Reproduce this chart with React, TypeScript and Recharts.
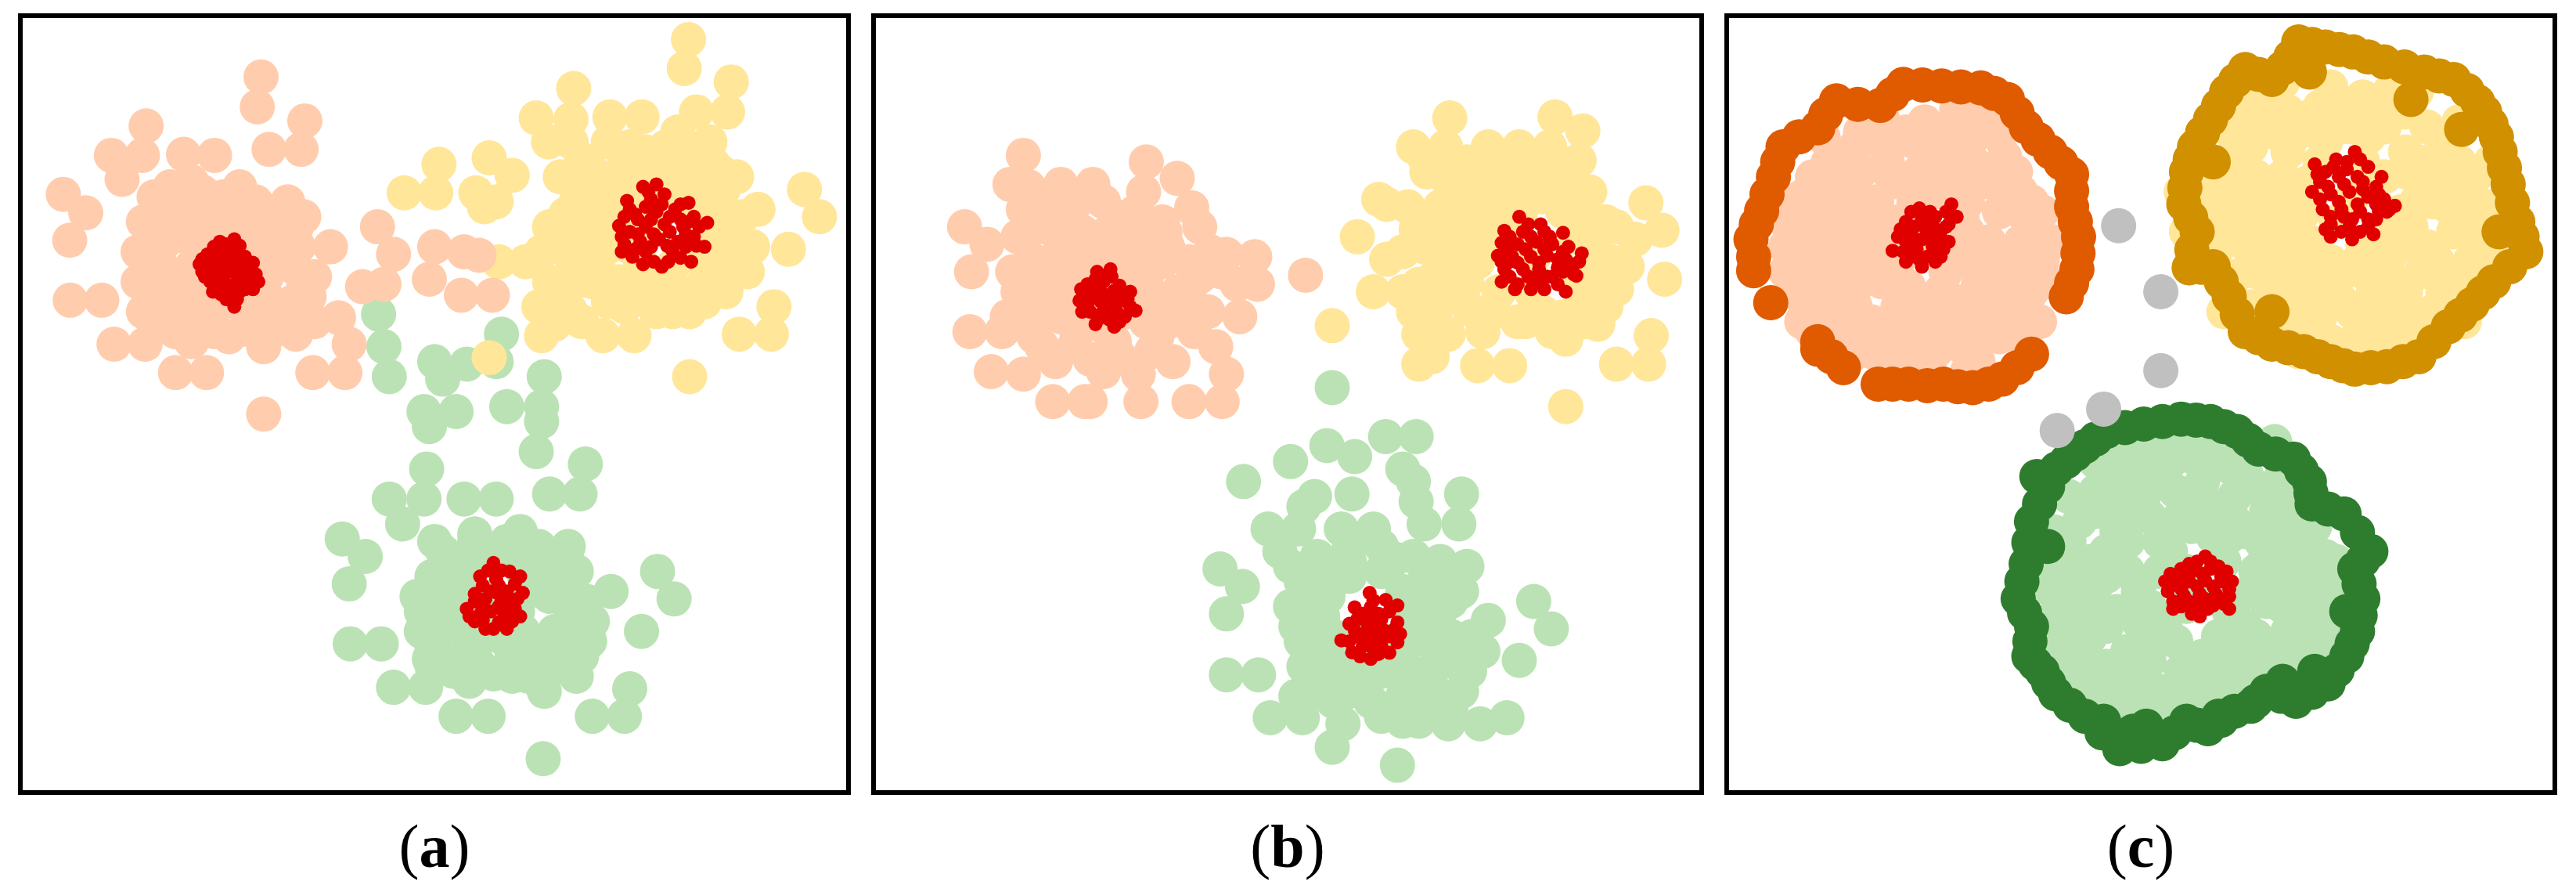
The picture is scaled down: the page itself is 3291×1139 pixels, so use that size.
import React from 'react';
import { ScatterChart, Scatter, XAxis, YAxis } from 'recharts';

type Pt = [number, number];

// panel (a)
const aPeach: Pt[] = [
  [460, 130], [453, 190], [245, 228], [542, 218], [475, 275], [535, 275], [180, 287], [238, 287],
  [315, 285], [373, 287], [200, 335], [90, 365], [132, 402], [102, 457], [260, 370], [420, 350],
  [510, 380], [330, 340], [590, 470], [525, 435], [678, 430], [708, 485], [650, 550], [690, 545],
  [785, 470], [840, 480], [868, 487], [775, 535], [835, 567], [893, 567], [103, 577], [162, 577],
  [230, 480], [250, 565], [252, 610], [280, 615], [340, 615], [372, 640], [430, 635], [465, 670],
  [525, 645], [550, 570], [605, 612], [625, 665], [185, 665], [243, 665], [300, 722], [358, 722],
  [557, 722], [617, 722], [465, 805], [300, 400], [360, 400], [420, 400], [480, 420], [260, 430],
  [320, 450], [380, 450], [440, 450], [500, 470], [270, 500], [330, 510], [460, 510], [520, 510],
  [290, 560], [350, 570], [410, 580], [470, 570], [520, 580], [330, 620], [400, 520],
  [240, 420], [290, 350], [350, 360], [390, 370], [450, 380], [490, 400], [540, 410], [280, 460],
  [350, 430], [410, 430], [470, 450], [530, 470], [560, 530], [250, 520], [300, 530], [360, 490],
  [430, 480], [490, 500], [540, 540], [240, 600], [300, 590], [370, 600], [440, 600], [500, 610],
  [560, 620], [400, 650], [330, 660], [270, 560], [480, 640], [440, 540], [360, 520], [340, 470],
  [470, 530], [300, 640], [230, 540], [510, 430],
];
const aYellow: Pt[] = [
  [1260, 55], [1252, 113], [1045, 153], [1340, 140], [1333, 200], [1275, 200], [975, 212], [1040, 215],
  [1113, 210], [1173, 210], [998, 260], [1060, 295], [1150, 270], [1218, 270], [1307, 305], [1325, 355],
  [887, 292], [930, 327], [793, 305], [787, 362], [728, 362], [862, 362], [900, 380], [878, 390],
  [1390, 395], [1477, 355], [1505, 410], [1447, 475], [1030, 405], [1060, 350], [1350, 495], [1330, 560],
  [1420, 590], [1415, 645], [1355, 645], [1262, 600], [1262, 730], [1200, 550], [1170, 570], [1100, 648],
  [1158, 648], [985, 648], [1010, 625], [980, 590], [1020, 580], [985, 480], [955, 500], [905, 500],
  [1040, 490], [1080, 540], [1310, 455], [1240, 560], [1350, 440], [887, 692], [1100, 350], [1160, 330],
  [1220, 330], [1280, 350], [1100, 410], [1280, 410], [1110, 470], [1170, 500], [1230, 510], [1290, 500],
  [1060, 440], [1130, 540], [1290, 540], [1050, 540], [1195, 430],
  [1040, 260], [1110, 260], [1180, 280], [1250, 290], [1320, 320], [1080, 320], [1140, 300], [1200, 310],
  [1270, 320], [1050, 380], [1120, 380], [1180, 360], [1240, 360], [1310, 390], [1360, 410], [1080, 440],
  [1150, 420], [1320, 430], [1020, 470], [1090, 500], [1150, 470], [1260, 480], [1330, 480], [1370, 520],
  [1050, 520], [1110, 580], [1200, 600], [1290, 580], [1000, 540], [1040, 600], [1230, 600], [1320, 520],
  [1180, 520], [1140, 590], [1060, 620], [1100, 470], [1240, 240], [1300, 260], [1350, 330], [1380, 470],
  [1020, 330], [1000, 430],
];
const aGreen: Pt[] = [
  [680, 605], [910, 645], [690, 670], [700, 730], [785, 700], [845, 705], [800, 735], [900, 700],
  [990, 730], [920, 790], [985, 790], [985, 820], [975, 880], [765, 800], [825, 800], [775, 830],
  [770, 915], [700, 975], [765, 975], [840, 975], [900, 975], [725, 1025], [1067, 905], [1000, 965],
  [1057, 965], [612, 1055], [655, 1090], [625, 1145], [785, 1060], [860, 1045], [945, 1040], [1035, 1070],
  [1050, 1120], [1115, 1160], [1202, 1120], [1233, 1175], [1172, 1240], [752, 1170], [627, 1265], [685, 1265],
  [775, 1255], [775, 1295], [805, 1300], [870, 1310], [895, 1325], [960, 1330], [990, 1360], [1050, 1330],
  [1075, 1260], [1150, 1355], [1080, 1410], [1140, 1410], [708, 1352], [768, 1352], [825, 1410], [885, 1410],
  [988, 1495], [1040, 1200], [1000, 1290], [930, 1290], [820, 1110], [880, 1080], [940, 1090], [1000, 1110],
  [800, 1180], [1000, 1170], [820, 1230], [880, 1250], [950, 1240], [1010, 1240], [850, 1280], [895, 1170],
  [800, 1080], [860, 1060], [920, 1060], [980, 1070], [1030, 1100], [780, 1130], [850, 1120], [950, 1120],
  [1020, 1150], [1070, 1180], [760, 1200], [830, 1170], [960, 1160], [1040, 1230], [790, 1250], [860, 1240],
  [920, 1260], [980, 1270], [1060, 1290], [820, 1320], [930, 1330], [1020, 1310], [760, 1240], [900, 1210],
  [940, 1200], [1080, 1220], [850, 1340], [990, 1100], [1030, 1270], [780, 1310],
];
const aCore: Pt[] = [
  [383, 460], [410, 455], [360, 485], [385, 480], [410, 478], [430, 490], [445, 502], [350, 520],
  [375, 510], [400, 505], [425, 515], [455, 540], [365, 540], [390, 535], [415, 540], [440, 530],
  [380, 555], [405, 560], [430, 555], [395, 575], [415, 575], [345, 505], [370, 525], [420, 500],
  [398, 520], [390, 495], [435, 545], [395, 465], [420, 468], [372, 470], [350, 495], [375, 495],
  [405, 492], [432, 505], [360, 510], [385, 520], [410, 520], [440, 518], [355, 530], [380, 540],
  [405, 548], [428, 535], [450, 525], [370, 560], [395, 555], [420, 560], [410, 590], [385, 565],
  [445, 555],
  [1175, 350], [1215, 365], [1145, 378], [1190, 375], [1260, 382], [1130, 428], [1160, 405], [1200, 400],
  [1235, 395], [1270, 410], [1295, 422], [1150, 440], [1180, 430], [1215, 425], [1250, 430], [1140, 465],
  [1170, 460], [1205, 455], [1240, 460], [1275, 468], [1155, 490], [1195, 500], [1222, 500], [1265, 500],
  [1180, 480], [1230, 478], [1255, 445], [1195, 445], [1165, 415], [1225, 410], [1150, 395], [1180, 390],
  [1210, 385], [1245, 385], [1140, 410], [1190, 415], [1245, 415], [1280, 430], [1165, 445], [1225, 440],
  [1270, 450], [1135, 450], [1160, 475], [1190, 470], [1220, 468], [1255, 470], [1290, 470], [1175, 505],
  [1245, 492], [1210, 510], [1135, 480], [1260, 420], [1200, 345], [1185, 360],
  [895, 1103], [925, 1120], [870, 1130], [900, 1135], [945, 1130], [860, 1165], [890, 1160], [920, 1160],
  [950, 1163], [845, 1195], [875, 1190], [905, 1190], [935, 1195], [860, 1220], [895, 1235], [930, 1220],
  [870, 1205], [915, 1205], [880, 1175], [910, 1178], [885, 1118], [910, 1118], [935, 1145], [875, 1148],
  [905, 1148], [860, 1180], [890, 1200], [925, 1180], [945, 1210], [875, 1218], [905, 1222], [850, 1210],
  [880, 1235], [920, 1235], [900, 1162], [940, 1175],
];

// panel (b)
const bPeach: Pt[] = [
  [290, 287], [520, 300], [578, 333], [515, 360], [265, 345], [360, 345], [420, 345], [290, 395],
  [305, 430], [180, 430], [222, 465], [193, 520], [465, 410], [555, 440], [605, 392], [640, 480],
  [670, 485], [723, 490], [728, 545], [690, 545], [635, 600], [695, 610], [818, 527], [305, 495],
  [320, 545], [300, 580], [190, 640], [250, 640], [310, 650], [325, 670], [385, 670], [415, 695],
  [470, 690], [505, 725], [570, 700], [650, 670], [670, 725], [230, 720], [290, 725], [345, 780],
  [405, 780], [415, 780], [510, 780], [600, 780], [662, 780], [585, 600], [550, 500], [380, 420],
  [440, 480], [360, 470], [510, 470], [360, 540], [520, 540], [360, 610], [440, 630], [520, 620],
  [580, 560], [400, 520], [480, 520], [445, 575],
  [300, 350], [330, 380], [390, 380], [440, 380], [500, 400], [550, 420], [280, 450], [330, 430],
  [400, 440], [450, 440], [490, 450], [560, 470], [600, 500], [270, 520], [340, 500], [420, 480],
  [480, 490], [530, 500], [620, 530], [280, 560], [350, 580], [410, 570], [500, 570], [550, 590],
  [600, 560], [260, 610], [320, 610], [390, 640], [460, 660], [540, 650], [610, 640], [350, 700],
  [440, 720], [530, 680], [400, 600], [480, 600], [560, 620], [500, 410], [620, 430], [660, 520],
];
const bYellow: Pt[] = [
  [1088, 212], [1285, 210], [1337, 238], [1020, 270], [1080, 270], [1160, 270], [1218, 270], [1275, 270],
  [1330, 297], [1045, 320], [1100, 355], [1160, 340], [1260, 335], [1350, 360], [955, 375], [970, 385],
  [915, 450], [970, 495], [1025, 435], [1070, 465], [1455, 382], [1485, 437], [1435, 455], [1490, 535],
  [1400, 555], [1365, 625], [1465, 648], [1460, 705], [1400, 705], [1305, 655], [1305, 790], [1215, 620],
  [1140, 708], [1200, 708], [1030, 705], [1055, 690], [1030, 645], [1085, 645], [1030, 545], [945, 560],
  [1000, 560], [1125, 595], [1260, 600], [1335, 580], [1380, 420], [1180, 385], [1110, 420], [868, 628],
  [1100, 500], [1160, 450], [1320, 450], [1360, 500], [1180, 560], [1240, 560], [1310, 530], [1070, 580],
  [1120, 540], [1300, 400], [1220, 400], [1245, 490],
  [1040, 290], [1120, 300], [1200, 300], [1250, 300], [1310, 320], [1080, 330], [1140, 320], [1220, 330],
  [1300, 360], [1010, 390], [1070, 390], [1140, 390], [1200, 360], [1260, 370], [1340, 400], [1400, 430],
  [1040, 470], [1130, 480], [1210, 430], [1360, 450], [1390, 500], [1060, 530], [1140, 500], [1350, 540],
  [1100, 570], [1170, 600], [1230, 620], [1300, 610], [1380, 590], [1060, 610], [1150, 640], [1340, 620],
  [1280, 640], [1000, 480], [1020, 600], [1420, 510], [1120, 450], [1050, 420],
];
const bGreen: Pt[] = [
  [868, 752], [968, 850], [1025, 850], [858, 868], [910, 890], [790, 900], [702, 940], [1000, 915],
  [1020, 940], [1110, 965], [1025, 980], [1040, 1025], [1105, 1025], [835, 970], [905, 965], [815, 990],
  [748, 1035], [805, 1035], [885, 1035], [945, 1035], [770, 1080], [658, 1115], [700, 1150], [670, 1205],
  [830, 1120], [900, 1100], [985, 1095], [1080, 1130], [1090, 1180], [1160, 1218], [1245, 1180], [1278, 1235],
  [1218, 1298], [800, 1230], [670, 1327], [730, 1327], [815, 1310], [820, 1355], [850, 1360], [900, 1360],
  [940, 1380], [1000, 1370], [1060, 1360], [1125, 1320], [1090, 1395], [1145, 1425], [1195, 1413], [752, 1413],
  [812, 1413], [888, 1425], [868, 1472], [990, 1508], [1030, 1420], [1085, 1425], [1050, 1260], [1000, 1300],
  [860, 1170], [900, 1130], [1000, 1160], [1040, 1200], [860, 1290], [920, 1310], [980, 1260], [1060, 1310],
  [830, 1180], [940, 1230],
  [840, 1090], [900, 1070], [960, 1070], [1020, 1090], [1070, 1100], [810, 1140], [870, 1140], [960, 1120],
  [1040, 1140], [1110, 1160], [790, 1190], [850, 1210], [1010, 1190], [1070, 1200], [1130, 1250], [810, 1260],
  [870, 1250], [1020, 1240], [1090, 1250], [830, 1310], [890, 1320], [960, 1320], [1020, 1330], [1090, 1300],
  [1150, 1280], [870, 1380], [960, 1410], [1040, 1390], [800, 1370], [930, 1350], [1110, 1360], [1000, 1420],
  [790, 1110], [1120, 1110],
];
const bCore: Pt[] = [
  [428, 520], [453, 515], [410, 545], [440, 540], [470, 548], [490, 560], [395, 578], [420, 570],
  [450, 568], [480, 578], [500, 598], [415, 600], [440, 598], [465, 600], [430, 615], [460, 630],
  [405, 560], [470, 620], [425, 535], [455, 530], [398, 555], [430, 555], [460, 558], [485, 575],
  [410, 585], [435, 580], [460, 585], [490, 590], [400, 600], [425, 625], [450, 615], [480, 610],
  [440, 565], [415, 560], [445, 530], [470, 565],
  [1218, 410], [1258, 425], [1190, 438], [1225, 440], [1265, 440], [1300, 442], [1185, 462], [1215, 465],
  [1250, 460], [1280, 465], [1310, 470], [1335, 483], [1178, 488], [1205, 490], [1240, 490], [1270, 488],
  [1305, 495], [1190, 515], [1225, 515], [1255, 515], [1290, 512], [1320, 525], [1185, 540], [1215, 545],
  [1240, 555], [1265, 555], [1305, 560], [1325, 528], [1200, 500], [1280, 530], [1200, 450], [1240, 450],
  [1275, 455], [1300, 480], [1330, 500], [1195, 475], [1230, 475], [1265, 475], [1290, 495], [1185, 500],
  [1215, 502], [1255, 502], [1300, 520], [1200, 530], [1235, 530], [1270, 530], [1210, 555], [1290, 545],
  [1250, 540], [1235, 425], [1275, 450], [1320, 505],
  [938, 1163], [968, 1177], [910, 1192], [940, 1192], [990, 1188], [900, 1225], [930, 1218], [960, 1215],
  [990, 1222], [885, 1258], [915, 1250], [945, 1248], [975, 1250], [995, 1245], [905, 1282], [940, 1295],
  [975, 1283], [925, 1270], [960, 1270], [950, 1232], [945, 1178], [925, 1205], [955, 1205], [975, 1200],
  [910, 1238], [935, 1235], [965, 1238], [985, 1235], [900, 1260], [930, 1260], [960, 1258], [990, 1262],
  [920, 1290], [955, 1285], [945, 1215], [915, 1215], [940, 1270],
];

// panel (c)
const cPeach: Pt[] = [
  [345, 240], [440, 195], [490, 220], [530, 290], [280, 230], [200, 300], [150, 370], [130, 450],
  [150, 520], [150, 620], [250, 270], [310, 300], [400, 300], [470, 300], [560, 360], [590, 430],
  [600, 500], [595, 620], [540, 600], [450, 670], [400, 680], [320, 690], [240, 640], [220, 560],
  [200, 470], [220, 390], [290, 380], [460, 380], [500, 460], [480, 550], [380, 580], [300, 540],
  [280, 460], [360, 380], [420, 520], [520, 650], [280, 620], [375, 450],
  [190, 250], [300, 210], [380, 220], [420, 250], [470, 250], [520, 250], [550, 320], [580, 380],
  [620, 460], [610, 540], [580, 560], [560, 650], [480, 620], [420, 620], [350, 640], [280, 680],
  [200, 620], [170, 580], [180, 520], [160, 440], [170, 330], [240, 340], [320, 340], [390, 340],
  [440, 340], [520, 340], [520, 400], [560, 460], [540, 520], [460, 440], [440, 580], [330, 590],
  [250, 500], [250, 430], [330, 500], [420, 480], [480, 500], [290, 420], [250, 590], [360, 620],
  [500, 580], [230, 300], [110, 380], [120, 470], [120, 520], [360, 260], [480, 170], [460, 720],
  [390, 720],
  [160, 400], [190, 360], [200, 420], [230, 460], [180, 490], [210, 520], [190, 580], [230, 610],
  [270, 650], [310, 650], [350, 670], [430, 650], [500, 640], [540, 560], [570, 510], [590, 470],
  [600, 400], [560, 400], [500, 340], [430, 300], [370, 320], [300, 260], [260, 320], [330, 420],
  [400, 360], [450, 410], [520, 500], [460, 600], [390, 650], [330, 560], [260, 540], [300, 500],
  [440, 500], [410, 560], [350, 550], [270, 390], [320, 460], [470, 480], [510, 550], [220, 330],
  [260, 240], [400, 240], [560, 600], [130, 560], [120, 420], [170, 640], [480, 700], [340, 720],
  [240, 690],
];
const cYellow: Pt[] = [
  [1030, 180], [1140, 150], [1250, 160], [1320, 230], [1380, 300], [1400, 380], [1420, 450], [1380, 520],
  [1290, 600], [1190, 650], [1100, 620], [990, 590], [930, 470], [900, 390], [940, 330], [990, 270],
  [1080, 240], [1180, 230], [1280, 280], [1330, 380], [1320, 470], [1250, 530], [1150, 540], [1050, 500],
  [1010, 420], [1050, 330], [1120, 300], [1200, 300], [1270, 400], [1200, 470], [1100, 460], [970, 380],
  [1180, 600], [1080, 560], [860, 360], [1350, 560], [1180, 370],
  [980, 200], [1060, 200], [1120, 190], [1200, 170], [1280, 200], [1350, 270], [1410, 330], [1440, 390],
  [1440, 480], [1400, 500], [1370, 580], [1300, 640], [1240, 650], [1140, 660], [1060, 630], [1000, 600],
  [960, 530], [930, 430], [940, 380], [1000, 330], [1060, 280], [1130, 260], [1210, 250], [1280, 320],
  [1350, 340], [1370, 440], [1310, 520], [1220, 560], [1110, 580], [1030, 550], [990, 480], [1040, 440],
  [1090, 400], [1150, 420], [1250, 440], [1290, 430], [1140, 500], [1200, 520], [1260, 580], [1020, 380],
  [1100, 520], [1360, 390], [1330, 600], [940, 600], [1180, 200], [1000, 250], [900, 470], [870, 440],
  [960, 300], [1000, 370], [960, 440], [1000, 520], [1050, 580], [1120, 610], [1210, 620], [1280, 560],
  [1340, 500], [1400, 420], [1380, 350], [1320, 300], [1240, 230], [1160, 230], [1100, 210], [1030, 230],
  [960, 250], [1050, 250], [1230, 200], [1320, 330], [1300, 470], [1250, 490], [1190, 500], [1120, 540],
  [1060, 460], [1060, 380], [1100, 340], [1240, 330], [1300, 380], [1160, 580], [1240, 620], [1330, 650],
  [1420, 540], [1420, 400], [1440, 300], [1000, 460], [930, 520], [900, 330], [1080, 680], [1200, 690],
  [1280, 670], [1390, 620], [1050, 140], [1000, 160], [1300, 160], [1380, 220],
];
const cGreen: Pt[] = [
  [1035, 860], [1040, 1030], [1010, 1110], [1100, 1160], [1135, 1220], [1100, 1270], [1040, 1300], [960, 1340],
  [880, 1370], [800, 1390], [740, 1370], [680, 1320], [640, 1260], [620, 1160], [640, 1090], [670, 1020],
  [700, 960], [760, 900], [820, 880], [880, 890], [950, 910], [1000, 950], [1060, 990], [760, 1000],
  [850, 960], [920, 990], [980, 1040], [720, 1080], [780, 1160], [720, 1230], [800, 1300], [900, 1290],
  [1000, 1250], [1050, 1190], [960, 1180], [830, 1220], [940, 1100], [820, 1060], [870, 1120], [700, 1150],
  [630, 1130], [1080, 1300], [885, 1145],
  [760, 870], [850, 850], [930, 860], [990, 880], [1050, 920], [1070, 960], [1110, 1030], [1130, 1090],
  [1150, 1160], [1150, 1260], [1120, 1290], [1060, 1350], [990, 1330], [930, 1370], [850, 1400], [770, 1410],
  [700, 1340], [650, 1300], [610, 1220], [600, 1150], [620, 1040], [650, 970], [700, 900], [750, 940],
  [820, 930], [900, 940], [960, 970], [1020, 1000], [1060, 1080], [1080, 1130], [1060, 1240], [990, 1290],
  [930, 1250], [850, 1260], [760, 1280], [690, 1250], [680, 1180], [690, 1100], [740, 1040], [800, 1010],
  [880, 1030], [950, 1050], [1000, 1120], [1020, 1180], [940, 1320], [860, 1320], [780, 1340], [720, 1310],
  [660, 1200], [760, 1120], [820, 1120], [950, 1200], [980, 1230], [800, 1190], [870, 1190],
  [700, 1000], [650, 1060], [620, 1100], [660, 1140], [640, 1220], [690, 1300], [740, 1330], [820, 1360],
  [900, 1340], [970, 1370], [1030, 1340], [1090, 1320], [1120, 1240], [1150, 1200], [1130, 1140], [1090, 1090],
  [1080, 1020], [1030, 960], [980, 920], [910, 900], [840, 900], [780, 930], [730, 960], [790, 970],
  [880, 980], [960, 1020], [1010, 1060], [1060, 1130], [1090, 1210], [1030, 1270], [960, 1290], [880, 1300],
  [800, 1250], [740, 1200], [720, 1130], [760, 1060], [850, 1020], [920, 1050], [990, 1160], [1040, 1130],
  [840, 1080], [940, 1260], [780, 1220], [700, 1380], [660, 1350], [620, 1300], [1150, 1100], [1110, 1290],
  [980, 860], [900, 860], [800, 860], [740, 900],
];
const cOrangeRing: Pt[] = [
  [340, 145], [412, 148], [485, 152], [535, 175], [570, 230], [615, 280], [655, 325], [655, 390],
  [668, 450], [665, 515], [645, 570], [580, 685], [525, 735], [470, 752], [415, 745], [350, 745],
  [293, 745], [228, 712], [180, 675], [180, 660], [92, 582], [60, 518], [55, 455], [75, 398],
  [97, 330], [115, 270], [180, 232], [215, 178], [297, 187],
  [376, 146], [448, 150], [510, 163], [553, 202], [592, 255], [635, 302], [655, 358], [662, 420],
  [667, 483], [655, 543], [553, 712], [320, 745], [385, 748], [442, 750], [500, 745], [205, 690],
  [60, 490], [65, 425], [85, 365], [105, 300], [145, 250], [195, 205], [255, 185], [320, 165],
];
const cGoldRing: Pt[] = [
  [1080, 60], [1130, 70], [1182, 80], [1240, 100], [1315, 120], [1370, 135], [1415, 180], [1440, 225],
  [1457, 280], [1472, 345], [1490, 420], [1505, 480], [1445, 540], [1405, 585], [1360, 630], [1305, 690],
  [1245, 710], [1185, 715], [1140, 700], [1090, 680], [1030, 665], [980, 640], [950, 570], [920, 510],
  [875, 512], [890, 440], [865, 385], [870, 320], [885, 270], [915, 215], [945, 160], [980, 115],
  [1030, 135], [1065, 90], [1290, 175], [1385, 235], [1455, 440], [1030, 600], [920, 300], [1100, 120],
  [1105, 65], [1156, 75], [1210, 90], [1278, 110], [1343, 128], [1395, 157], [1428, 200], [1450, 250],
  [1465, 312], [1480, 382], [1498, 450], [1475, 510], [1425, 562], [1383, 607], [1333, 660], [1275, 700],
  [1215, 712], [1163, 708], [1115, 690], [1060, 672], [1005, 652], [965, 605], [935, 540], [898, 511],
  [880, 476], [878, 412], [867, 352], [877, 295], [900, 242], [930, 188], [962, 137], [1005, 125],
  [1050, 112],
];
const cGreenRing: Pt[] = [
  [720, 840], [790, 825], [860, 815], [915, 820], [965, 840], [1005, 875], [1070, 895], [1100, 940],
  [1105, 985], [1165, 1005], [1215, 1080], [1185, 1115], [1200, 1175], [1190, 1240], [1170, 1290], [1135, 1345],
  [1075, 1380], [1020, 1360], [960, 1400], [910, 1435], [870, 1420], [825, 1465], [745, 1475], [680, 1410],
  [625, 1365], [600, 1320], [575, 1290], [580, 1230], [555, 1175], [570, 1105], [580, 1020], [610, 950],
  [590, 930], [645, 900], [680, 870], [770, 1440], [610, 1070], [1110, 1320], [1050, 1340], [1000, 1380],
  [930, 1410], [795, 1430], [715, 1420], [1170, 1200],
  [755, 832], [825, 820], [888, 817], [940, 830], [985, 857], [1037, 885], [1085, 918], [1103, 963],
  [1135, 995], [1190, 1042], [1200, 1098], [1193, 1145], [1195, 1208], [1180, 1265], [1152, 1318], [1105, 1362],
  [1048, 1370], [990, 1390], [935, 1418], [890, 1428], [848, 1443], [785, 1470], [712, 1443], [652, 1388],
  [612, 1343], [587, 1305], [577, 1260], [567, 1203], [562, 1140], [575, 1062], [595, 985], [627, 915],
  [662, 885], [700, 855],
];
const cNoise: Pt[] = [[743, 428], [822, 560], [822, 718], [715, 795], [628, 838]];
const cCore: Pt[] = [
  [370, 393], [430, 385], [440, 410], [345, 420], [375, 415], [400, 410], [330, 450], [355, 445],
  [385, 440], [410, 440], [340, 480], [365, 475], [395, 470], [415, 475], [345, 500], [375, 510],
  [400, 500], [320, 478], [390, 455], [360, 460], [355, 400], [390, 400], [420, 400], [360, 430],
  [395, 425], [425, 425], [345, 460], [375, 455], [405, 455], [425, 460], [355, 490], [385, 490],
  [410, 490], [370, 495], [335, 435], [420, 430], [395, 445], [360, 470], [400, 480], [380, 430],
  [1110, 305], [1150, 295], [1185, 280], [1210, 310], [1235, 330], [1120, 340], [1155, 330], [1190, 330],
  [1225, 350], [1105, 360], [1140, 365], [1175, 360], [1210, 370], [1240, 375], [1260, 388], [1125, 395],
  [1160, 395], [1195, 400], [1230, 400], [1140, 425], [1175, 430], [1210, 430], [1140, 450], [1180, 455],
  [1225, 415], [1165, 410], [1130, 320], [1170, 315], [1200, 340], [1135, 350], [1165, 345], [1200, 355],
  [1230, 365], [1120, 375], [1155, 380], [1190, 385], [1225, 385], [1250, 395], [1140, 410], [1180, 415],
  [1210, 415], [1160, 440], [1195, 440], [1130, 435], [1220, 445], [1170, 300], [1195, 295], [1145, 310],
  [1115, 325], [1245, 400],
  [905, 1090], [875, 1105], [930, 1110], [840, 1125], [870, 1130], [900, 1125], [935, 1130], [830, 1140],
  [860, 1155], [890, 1150], [920, 1150], [950, 1155], [845, 1180], [875, 1180], [905, 1175], [935, 1175],
  [845, 1195], [880, 1205], [910, 1195], [940, 1185], [890, 1100], [915, 1100], [860, 1115], [885, 1118],
  [915, 1115], [945, 1120], [850, 1140], [875, 1140], [905, 1138], [935, 1140], [955, 1140], [865, 1168],
  [895, 1165], [925, 1165], [950, 1170], [860, 1190], [890, 1190], [920, 1188], [895, 1210], [835, 1160],
  [950, 1195],
];

const labels = ['a', 'b', 'c'];

const PEACH = '#FFCDAD';
const YELLOW = '#FFE699';
const GREEN = '#BBE2B4';
const RED = '#E00000';
const ORANGE = '#E05A00';
const GOLD = '#D09000';
const DARKGREEN = '#2E7D2E';
const GRAY = '#C0C0C0';

const toObj = (pts: Pt[]) => pts.map(([x, y]) => ({ x, y }));

interface Layer {
  pts: Pt[];
  color: string;
  r: number;
}

const BIG = 22.5;
const SMALL = 9;

const panels: Layer[][] = [
  [
    { pts: aGreen, color: GREEN, r: BIG },
    { pts: aYellow, color: YELLOW, r: BIG },
    { pts: aPeach, color: PEACH, r: BIG },
    { pts: aCore, color: RED, r: SMALL },
  ],
  [
    { pts: bGreen, color: GREEN, r: BIG },
    { pts: bYellow, color: YELLOW, r: BIG },
    { pts: bPeach, color: PEACH, r: BIG },
    { pts: bCore, color: RED, r: SMALL },
  ],
  [
    { pts: cPeach, color: PEACH, r: BIG },
    { pts: cYellow, color: YELLOW, r: BIG },
    { pts: cGreen, color: GREEN, r: BIG },
    { pts: cOrangeRing, color: ORANGE, r: BIG },
    { pts: cGoldRing, color: GOLD, r: BIG },
    { pts: cGreenRing, color: DARKGREEN, r: BIG },
    { pts: cNoise, color: GRAY, r: BIG },
    { pts: cCore, color: RED, r: SMALL },
  ],
];

const panelLeft = [23, 1113, 2203];
const INNER_W = 1052;
const INNER_H = 986;

function Panel({ layers, left, label }: { layers: Layer[]; left: number; label: string }) {
  return (
    <>
      <div
        style={{
          position: 'absolute',
          left,
          top: 17,
          width: INNER_W,
          height: INNER_H,
          border: '6px solid #000',
          overflow: 'hidden',
          background: '#fff',
        }}
      >
        <ScatterChart width={INNER_W} height={INNER_H} margin={{ top: 0, right: 0, bottom: 0, left: 0 }}>
          <XAxis type="number" dataKey="x" domain={[14, 1555]} hide />
          <YAxis type="number" dataKey="y" domain={[12, 1558]} reversed hide />
          {layers.map((layer, i) => (
            <Scatter
              key={i}
              data={toObj(layer.pts)}
              isAnimationActive={false}
              shape={(p: any) => <circle cx={p.cx} cy={p.cy} r={layer.r} fill={layer.color} />}
            />
          ))}
        </ScatterChart>
      </div>
      <div
        style={{
          position: 'absolute',
          left: left - 100,
          top: 1042,
          width: INNER_W + 212,
          textAlign: 'center',
          fontFamily: '"Liberation Serif", serif',
          fontSize: 78,
          lineHeight: '78px',
          color: '#000',
        }}
      >
        (<b>{label}</b>)
      </div>
    </>
  );
}

export default function App() {
  return (
    <div style={{ position: 'absolute', left: 0, top: 0, width: 3291, height: 1139, background: '#fff' }}>
      {panels.map((layers, i) => (
        <Panel key={i} layers={layers} left={panelLeft[i]} label={labels[i]} />
      ))}
    </div>
  );
}
